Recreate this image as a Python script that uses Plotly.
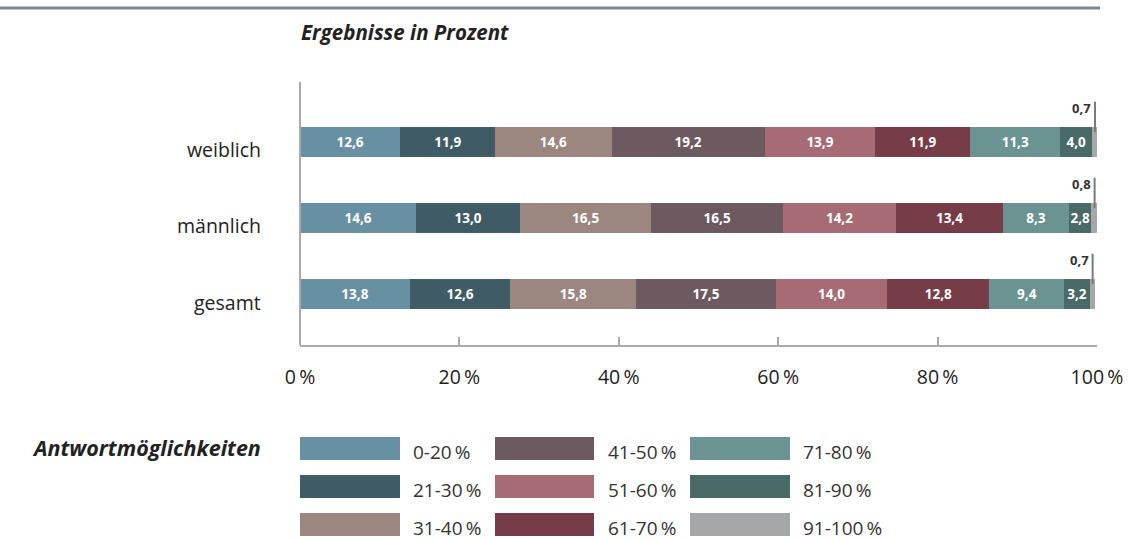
import plotly.graph_objects as go

categories = ["gesamt", "männlich", "weiblich"]
answers = ["0-20\u2009%", "21-30\u2009%", "31-40\u2009%", "41-50\u2009%", "51-60\u2009%", "61-70\u2009%",
           "71-80\u2009%", "81-90\u2009%", "91-100\u2009%"]
colors = ["#6890a3", "#3e5b66", "#9b877f", "#6d5a61", "#a66b75", "#763c48", "#6b9392", "#496a66", "#a5a8a8"]
# values per answer option, ordered like categories (gesamt, männlich, weiblich)
v_0_20 = [13.8, 14.6, 12.6]
v_21_30 = [12.6, 13.0, 11.9]
v_31_40 = [15.8, 16.5, 14.6]
v_41_50 = [17.5, 16.5, 19.2]
v_51_60 = [14.0, 14.2, 13.9]
v_61_70 = [12.8, 13.4, 11.9]
v_71_80 = [9.4, 8.3, 11.3]
v_81_90 = [3.2, 2.8, 4.0]
v_91_100 = [0.7, 0.8, 0.7]
series = [v_0_20, v_21_30, v_31_40, v_41_50, v_51_60, v_61_70, v_71_80, v_81_90, v_91_100]
x_ticks = [0, 20, 40, 60, 80, 100]
x_tick_text = ["0\u2009%", "20\u2009%", "40\u2009%", "60\u2009%", "80\u2009%", "100\u2009%"]

W, H = 1128, 540
L, R, T, B = 300, 1097, 82, 345


def px(x):
    return (x - L) / (R - L)


def py(y):
    return (B - y) / (B - T)


def fmt(v):
    return f"{v:.1f}".replace(".", ",")


FONT = "Open Sans"
fig = go.Figure()
for i, (name, vals, col) in enumerate(zip(answers, series, colors)):
    last = i == len(series) - 1
    fig.add_trace(go.Bar(
        y=categories, x=vals, name=name, orientation="h",
        marker=dict(color=col, line=dict(width=0)),
        width=0.4,
        text=["" if last else fmt(v) for v in vals],
        textposition="inside", insidetextanchor="middle", textangle=0,
        textfont=dict(color="white", size=13.5, family=FONT, weight="bold"),
        hoverinfo="skip", showlegend=False,
    ))

annotations = []
shapes = []
# small last-segment labels
for ci, cat in enumerate(categories):
    start = sum(s[ci] for s in series[:-1])
    center = start + series[-1][ci] / 2
    shapes.append(dict(type="line", xref="x", yref="y", x0=center, x1=center,
                       y0=ci + 0.13, y1=ci + 0.53, line=dict(color="#7a7a7a", width=2)))
    annotations.append(dict(x=center, y=ci + 0.45, xref="x", yref="y", text=f"<b>{fmt(series[-1][ci])}</b>",
                            showarrow=False, xanchor="right", xshift=-2,
                            font=dict(size=13, color="#333333", family=FONT)))
    annotations.append(dict(x=px(263), y=ci, xref="paper", yref="y", text=cat, showarrow=False,
                            xanchor="right", yshift=-8, font=dict(size=19.5, color="#222222", family=FONT)))

# title and top rule
annotations.append(dict(x=px(299), y=py(32), xref="paper", yref="paper", text="<b><i>Ergebnisse in Prozent</i></b>",
                        showarrow=False, xanchor="left", yanchor="middle",
                        font=dict(size=20.5, color="#222222", family=FONT)))
shapes.append(dict(type="line", xref="paper", yref="paper", x0=px(0), x1=px(1100), y0=py(8), y1=py(8),
                   line=dict(color="#7b8b95", width=3)))
# left axis line
shapes.append(dict(type="line", xref="paper", yref="paper", x0=0, x1=0, y0=0, y1=1,
                   line=dict(color="#aaaaaa", width=2)))

# legend
annotations.append(dict(x=px(263), y=py(447), xref="paper", yref="paper", text="<b><i>Antwortmöglichkeiten</i></b>",
                        showarrow=False, xanchor="right", yanchor="middle",
                        font=dict(size=21.5, color="#222222", family=FONT)))
col_x = [(300, 400, 411), (495, 594, 606), (690, 790, 801)]
row_y = [(437, 460), (475, 498), (513, 536)]
for i, (name, col) in enumerate(zip(answers, colors)):
    c, r = divmod(i, 3)
    x0, x1, tx = col_x[c]
    y0, y1 = row_y[r]
    shapes.append(dict(type="rect", xref="paper", yref="paper", x0=px(x0), x1=px(x1), y0=py(y1), y1=py(y0),
                       fillcolor=col, line=dict(width=0)))
    annotations.append(dict(x=px(tx), y=py((y0 + y1) / 2 + 3), xref="paper", yref="paper", text=name,
                            showarrow=False, xanchor="left", yanchor="middle",
                            font=dict(size=19, color="#333333", family=FONT)))

fig.update_layout(
    barmode="stack", width=W, height=H,
    margin=dict(l=L, r=W - R, t=T, b=H - B, pad=0),
    paper_bgcolor="white", plot_bgcolor="white",
    font=dict(family=FONT),
    uniformtext=dict(minsize=13.5, mode="show"),
    xaxis=dict(range=[0, 100], tickvals=x_ticks, ticktext=x_tick_text, showgrid=False, zeroline=False,
               showline=True, linecolor="#aaaaaa", linewidth=2, ticks="inside", ticklen=8,
               tickcolor="#aaaaaa", tickwidth=2, ticklabelstandoff=14, automargin=False,
               tickfont=dict(size=19.5, color="#222222", family=FONT), fixedrange=True),
    yaxis=dict(range=[-0.671, 2.789], showticklabels=False, showgrid=False, zeroline=False,
               showline=False, fixedrange=True, automargin=False),
    annotations=annotations, shapes=shapes,
)
fig.write_html("out.html", config={"displayModeBar": False},
               post_script="document.body.style.margin='0';document.body.style.overflow='hidden';")
